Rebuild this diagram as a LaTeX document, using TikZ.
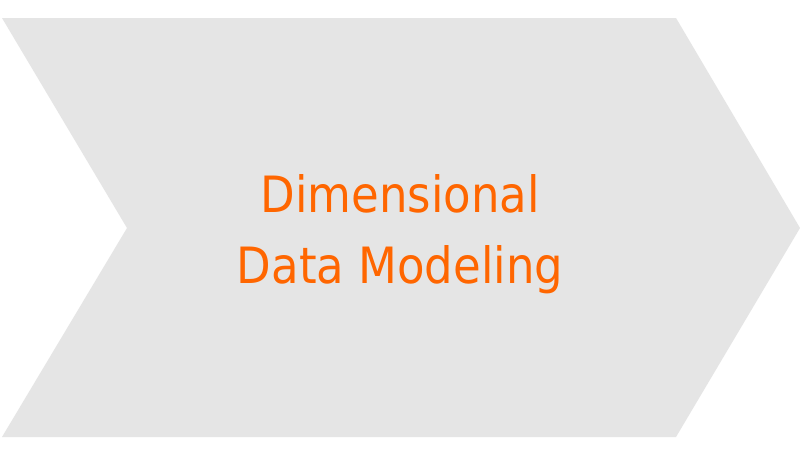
\documentclass[tikz,border=0pt]{standalone}
\usepackage{fontspec}
\newfontfamily\labelfont{DejaVu Sans Condensed}
\definecolor{chevgray}{HTML}{E5E5E5}
\definecolor{chevorange}{HTML}{FF6600}
\tikzset{
  chevron/.style={fill=chevgray, draw=none},
  chevtext/.style={text=chevorange, font=\labelfont\fontsize{50}{60}\selectfont, anchor=base, inner sep=0pt}
}
\begin{document}
\begin{tikzpicture}[x=1pt,y=-1pt]
\useasboundingbox (0,0) rectangle (800,456);
\fill[white] (0,0) rectangle (800,456);
\path[chevron] (2,18) -- (676,18) -- (800,228) -- (676,437) -- (2,437) -- (127,228) -- cycle;
\node[chevtext] (l1) at (400,212) {Dimensional};
\node[chevtext] (l2) at (400,283) {Data Modeling};
\end{tikzpicture}
\end{document}
